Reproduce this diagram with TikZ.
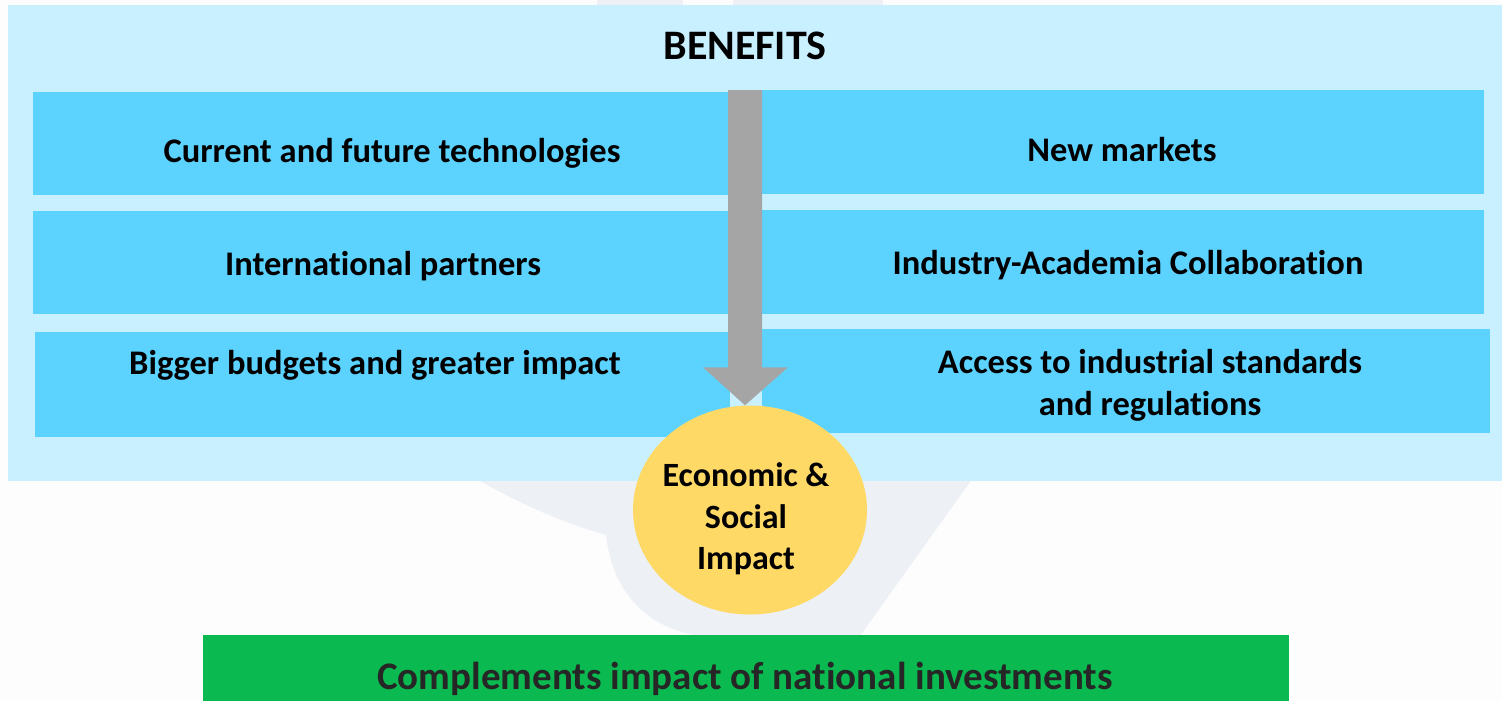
\documentclass[tikz,border=0pt]{standalone}
\usepackage{fontspec}
\setmainfont{Carlito}[Ligatures=NoCommon]
\usetikzlibrary{shapes.geometric,calc}
\definecolor{panelblue}{HTML}{C9F0FF}
\definecolor{boxblue}{HTML}{5CD3FF}
\definecolor{arrowgray}{HTML}{A5A5A5}
\definecolor{circyellow}{HTML}{FFD966}
\definecolor{barGreen}{HTML}{0AB94F}
\definecolor{bartext}{HTML}{262626}
\definecolor{wmgray}{HTML}{EDF0F5}
\definecolor{bgwhite}{HTML}{FDFDFD}
\tikzset{
  boxfill/.style={fill=boxblue, draw=none},
  boxtext/.style={font=\bfseries\fontsize{34.5}{42}\selectfont, text=black, align=center, inner sep=0pt},
}
\begin{document}
\begin{tikzpicture}[x=1pt,y=-1pt]
\useasboundingbox (0,0) rectangle (1502,701);
\fill[bgwhite] (0,0) rectangle (1502,701);
% watermark
\fill[wmgray] (597,0) rectangle (683,20);
\fill[wmgray] (733,0) rectangle (883,20);
\fill[wmgray] (470,475) .. controls (520,505) and (570,525) .. (606,535)
   .. controls (612,590) and (645,628) .. (700,636) -- (860,636) -- (975,475) -- cycle;
% panel
\node[fill=panelblue, draw=none, minimum width=1494pt, minimum height=476pt, inner sep=0pt, anchor=north west] (panel) at (8,5) {};
\node[font=\bfseries\fontsize{42}{50}\selectfont, inner sep=0pt] (title) at (745,46) {BENEFITS};
% boxes
\node[boxfill, minimum width=695pt, minimum height=103pt, anchor=north west, inner sep=0pt] (b1) at (33,92) {};
\node[boxfill, minimum width=722pt, minimum height=104pt, anchor=north west, inner sep=0pt] (b2) at (762,90) {};
\node[boxfill, minimum width=695pt, minimum height=103pt, anchor=north west, inner sep=0pt] (b3) at (33,211) {};
\node[boxfill, minimum width=722pt, minimum height=104pt, anchor=north west, inner sep=0pt] (b4) at (762,210) {};
\node[boxfill, minimum width=695pt, minimum height=105pt, anchor=north west, inner sep=0pt] (b5) at (35,332) {};
\node[boxfill, minimum width=728pt, minimum height=104pt, anchor=north west, inner sep=0pt] (b6) at (762,329) {};
\node[boxtext] (t1) at (392,153) {Current and future technologies};
\node[boxtext] (t2) at (1122,150) {New markets};
\node[boxtext] (t3) at (383,266) {International partners};
\node[boxtext] (t4) at (1128,265) {Industry-Academia Collaboration};
\node[boxtext] (t5) at (375,365) {Bigger budgets and greater impact};
\node[boxtext] (t6) at (1150,385) {Access to industrial standards\\and regulations};
% ellipse
\node[ellipse, fill=circyellow, draw=none, minimum width=234pt, minimum height=209pt, inner sep=0pt] (econ) at (750,510) {};
\node[font=\bfseries\fontsize{34}{41.5}\selectfont, align=center, inner sep=0pt] (econtext) at (746,519) {Economic \&\\Social\\Impact};
% arrow
\coordinate (atop) at (745,90);
\coordinate (atip) at (atop |- econ.north);
\fill[arrowgray] ($(atop)+(-17,0)$) -- ($(atop)+(17,0)$) -- ($(atip)+(17,-38)$)
  -- ($(atip)+(43,-38)$) -- (atip) -- ($(atip)+(-42,-38)$)
  -- ($(atip)+(-17,-38)$) -- cycle;
% green bar
\node[fill=barGreen, draw=none, minimum width=1086pt, minimum height=70pt, anchor=north west, inner sep=0pt] (bar) at (203,635) {};
\node[font=\bfseries\fontsize{39}{46}\selectfont, text=bartext, inner sep=0pt] (bartxt) at (745,679) {Complements impact of national investments};
\end{tikzpicture}
\end{document}
